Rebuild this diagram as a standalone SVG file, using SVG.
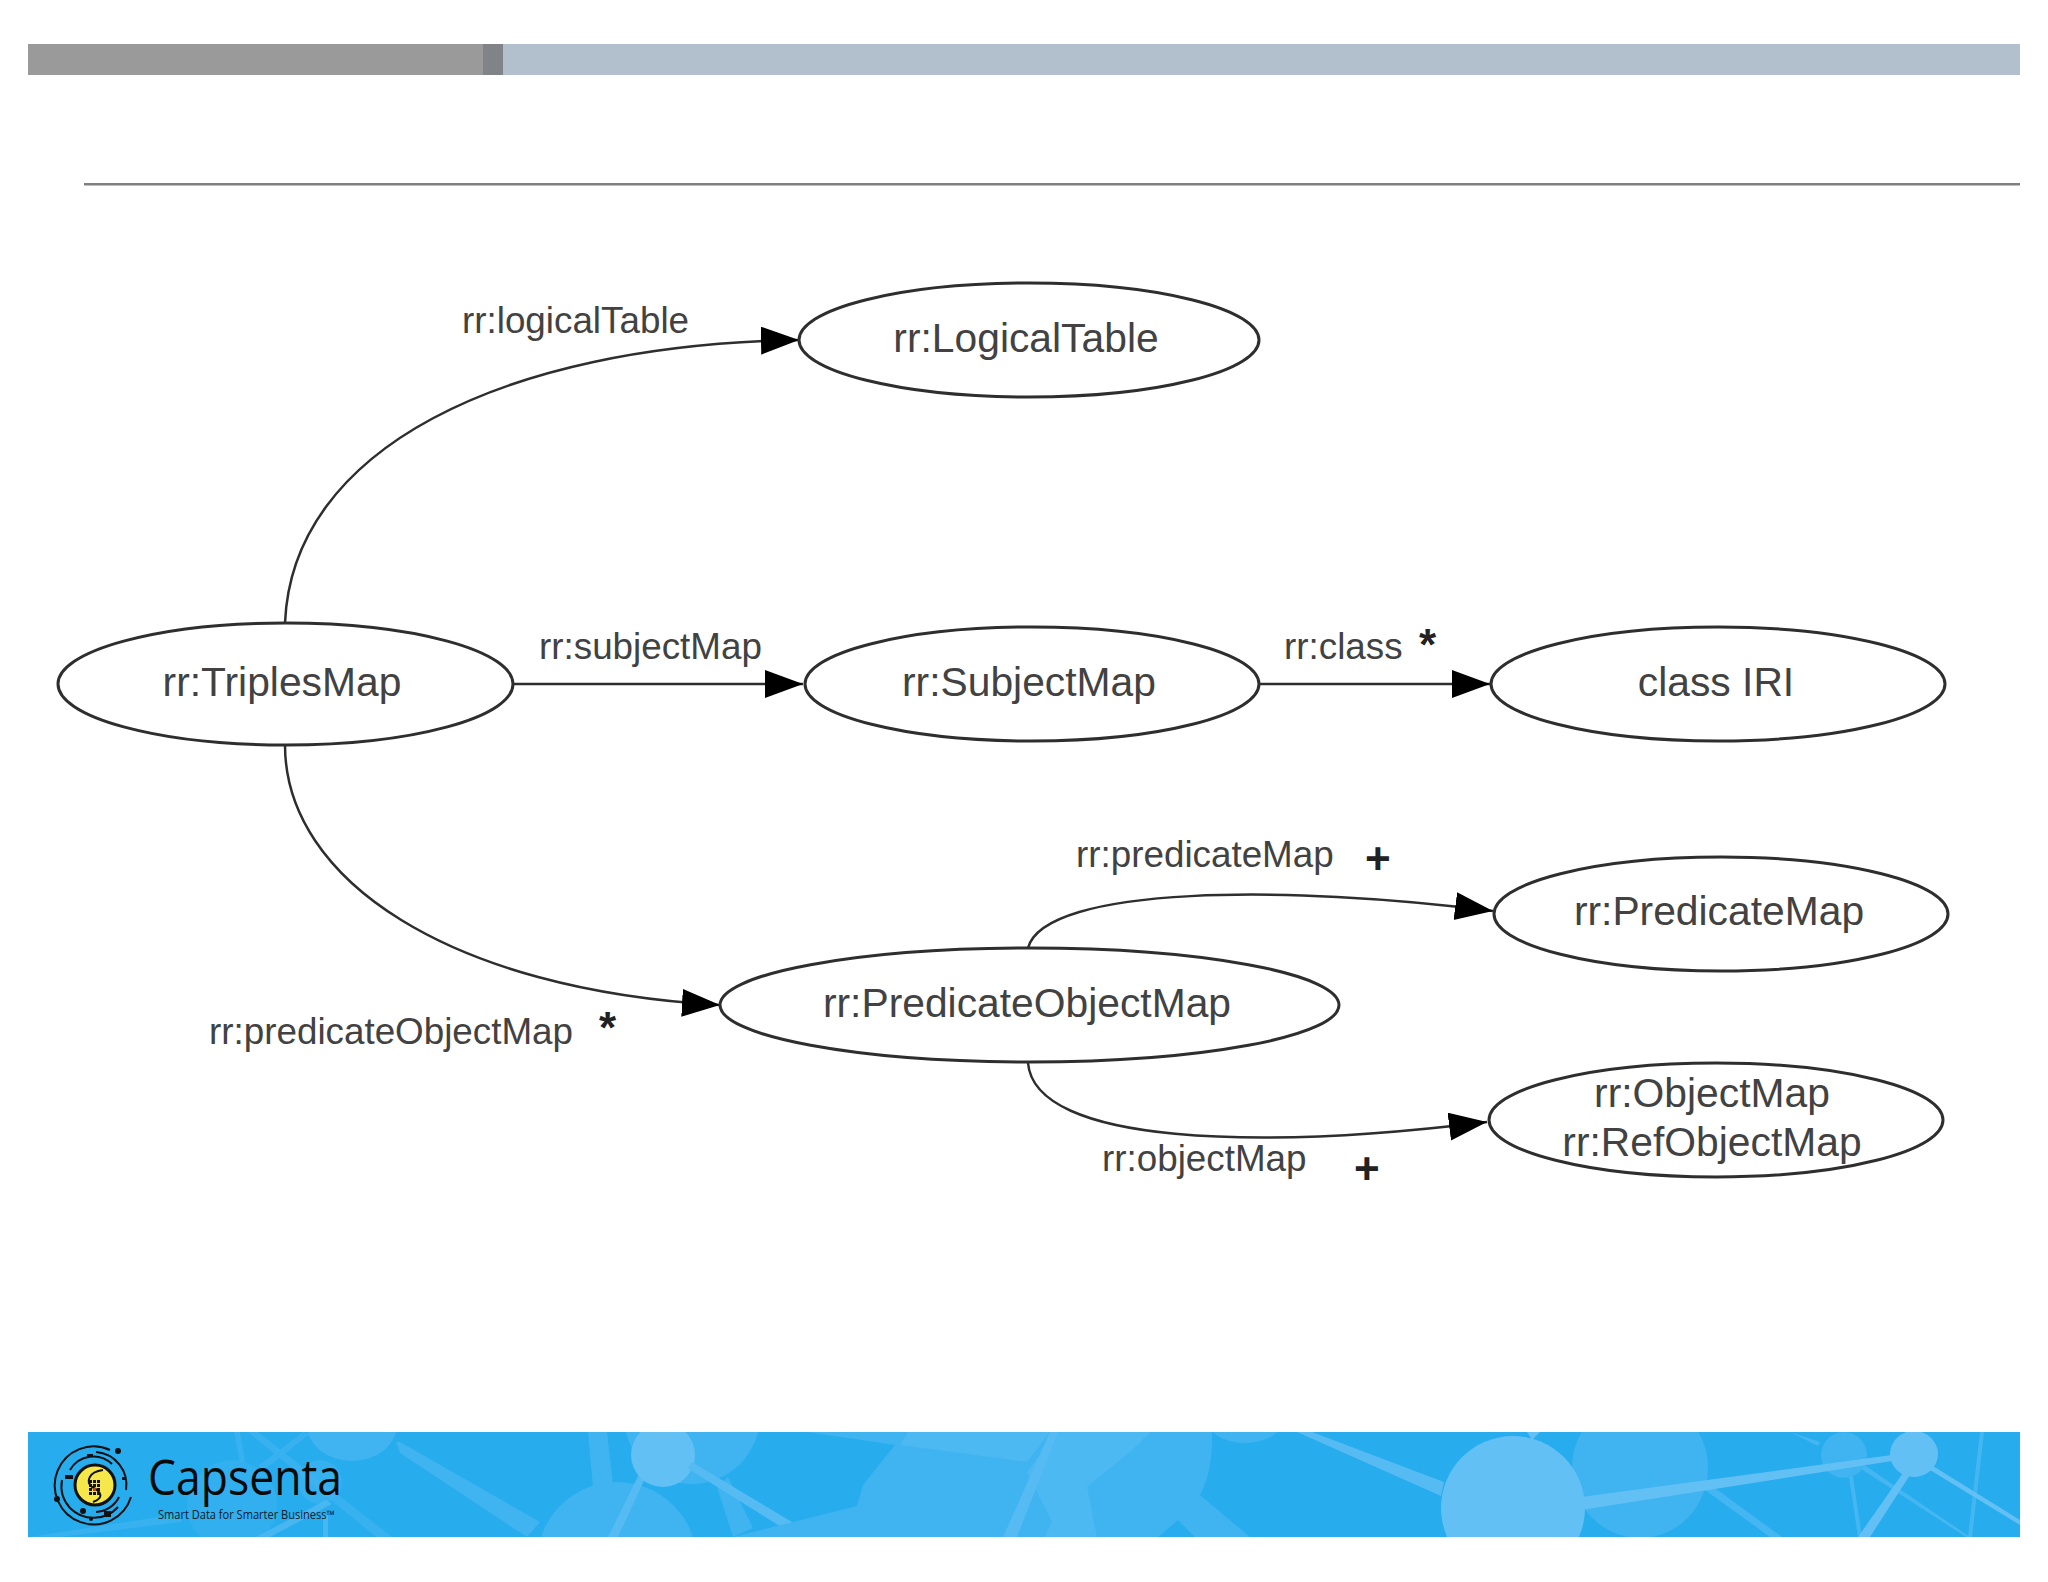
<svg xmlns="http://www.w3.org/2000/svg" width="2048" height="1582" viewBox="0 0 2048 1582">
<style>
text{font-family:"Liberation Sans",Arial,sans-serif;fill:#424242}
.n{font-size:40.800px;text-anchor:middle}
.e{font-size:36.800px}
.c{font-size:44px;font-weight:bold;fill:#222}
ellipse.o{fill:#fff;stroke:#2e2e2e;stroke-width:3}
.l{fill:none;stroke:#2e2e2e;stroke-width:2.500}
.a{fill:#4cb9f2}
.b{fill:#3fb4f0}
.d{fill:#63c0f5}
.m{fill:#55bbf2}
.r{fill:none;stroke:#111;stroke-width:2}
.k{fill:#111}
</style>
<defs>
<marker id="arrow" markerUnits="userSpaceOnUse" markerWidth="40" markerHeight="30" refX="38" refY="14" orient="auto">
<path d="M0 0L38 14L0 28Z" fill="#000"/>
</marker>
<clipPath id="band"><rect x="28" y="1432" width="1992" height="105"/></clipPath>
</defs>
<rect width="2048" height="1582" fill="#fff"/>
<g id="header">
<rect x="28" y="44" width="455" height="31" fill="#9a9a9a"/>
<rect x="483" y="44" width="20" height="31" fill="#808488"/>
<rect x="503" y="44" width="1517" height="31" fill="#b2bfcc"/>
<rect x="84" y="183" width="1936" height="2.500" fill="#7f7f7f"/>
</g>
<g id="footer">
<rect x="28" y="1432" width="1992" height="105" fill="#27acee"/>
<g clip-path="url(#band)">
<path class="b" d="M29 1537L178 1514L182 1522L60 1537ZM248 1432L258 1432L392 1537L376 1537ZM234 1432L240 1432L245 1462L240 1462ZM303 1432L310 1434L264 1470L258 1466Z" opacity=".7"/>
<ellipse class="b" cx="352" cy="1425" rx="45" ry="36"/>
<ellipse class="b" cx="232" cy="1505" rx="45" ry="45" opacity=".45"/>
<circle class="b" cx="320" cy="1482" r="22" opacity=".6"/>
<path class="m" d="M326 1500L332 1504L270 1537L256 1537ZM323 1515L328 1515L328 1537L323 1537Z" opacity=".7"/>
<path class="b" d="M396 1442L400 1442L540 1522L527 1537L400 1453Z"/>
<circle class="b" cx="617" cy="1562" r="80"/>
<path class="b" d="M588 1432L607 1432L613 1485L593 1487Z"/>
<circle class="b" cx="692" cy="1416" r="68"/>
<path class="b" d="M717 1487L728 1477L753 1528L733 1537Z"/>
<path class="m" d="M642 1468L648 1472L618 1537L608 1537Z"/>
<circle class="d" cx="663" cy="1455" r="32"/>
<path class="m" d="M692 1462L817 1537L797 1537L687 1468Z"/>
<path class="b" d="M807 1432L1212 1432C1213 1460 1208 1480 1200 1495L1250 1537L1195 1537L1178 1520L1158 1537L733 1537L857 1506L863 1485L895 1445Z"/>
<path class="a" d="M908 1432L1050 1432L1027 1462L900 1445ZM1057 1432L1150 1432L1130 1452L1087 1487L1097 1537L1045 1537L1052 1522L1027 1472Z"/>
<path class="m" d="M1050 1432L1058 1432L1017 1537L1003 1537Z"/>
<ellipse class="b" cx="1245" cy="1420" rx="38" ry="23"/>
<path class="m" d="M1297 1432L1312 1432L1444 1482L1441 1496Z"/>
<ellipse class="b" cx="1640" cy="1468" rx="68" ry="70"/>
<path class="a" d="M1705 1490L1712 1486L1782 1537L1770 1537ZM1790 1432L1820 1442L1818 1446ZM1855 1465L1860 1462L1970 1537L1966 1537ZM1848 1470L1852 1470L1862 1537L1858 1537ZM1980 1432L1984 1432L1972 1537L1968 1537Z" opacity=".8"/>
<ellipse class="b" cx="1844" cy="1455" rx="23" ry="23"/>
<path class="d" d="M1581 1497L1892 1455L1892 1461L1581 1510Z"/>
<path class="d" d="M1858 1537L1905 1470L1910 1475L1870 1537ZM1930 1470L1933 1466L2020 1520L2020 1525Z"/>
<ellipse class="d" cx="1513" cy="1508" rx="72" ry="72"/>
<path class="d" d="M1527 1432L1540 1432L1532 1440Z"/>
<ellipse class="d" cx="1914" cy="1454" rx="24" ry="23"/>
</g>
<g id="logo">
<path class="r" d="M110 1450A39 39 0 1 0 131 1497"/>
<path class="r" d="M96 1452A33 33 0 0 1 126 1490M118 1507A33 33 0 0 1 70 1508A33 33 0 0 1 62 1480"/>
<path class="r" d="M70 1470A27 27 0 0 1 112 1464M119 1497A27 27 0 0 1 96 1512"/>
<circle cx="95" cy="1485" r="20" fill="#f6e84a" stroke="#111" stroke-width="3"/>
<path class="r" d="M103 1470C88 1472 86 1482 92 1487C102 1492 104 1498 93 1502"/>
<path class="k" d="M89 1480h3v3h-3zM93 1480h3v3h-3zM97 1480h3v3h-3zM89 1484h3v3h-3zM93 1484h3v3h-3zM97 1484h3v3h-3zM89 1488h3v3h-3zM97 1488h3v3h-3zM89 1492h3v3h-3zM93 1492h3v3h-3zM97 1492h3v3h-3z"/>
<rect x="93" y="1488" width="3" height="3" fill="#c8402a"/>
<circle class="k" cx="118" cy="1451" r="3"/>
<circle class="k" cx="57" cy="1499" r="3"/>
<circle class="k" cx="83" cy="1511" r="3"/>
<circle class="k" cx="91" cy="1519" r="2"/>
<rect class="k" x="104" y="1511" width="7" height="6"/>
<rect class="k" x="65" y="1475" width="8" height="4"/>
<rect class="k" x="87" y="1454" width="6" height="3"/>
<rect class="k" x="122" y="1477" width="3" height="3"/>
<text x="148" y="1495" font-size="50" style="font-family:'Open Sans',sans-serif;fill:#0a0a0a" textLength="194" lengthAdjust="spacingAndGlyphs">Capsenta</text>
<text x="158" y="1519" font-size="12" style="font-family:'Open Sans',sans-serif;fill:#10202c" textLength="177" lengthAdjust="spacingAndGlyphs">Smart Data for Smarter Business™</text>
</g>
</g>
<g id="connectors">
<path class="l" marker-end="url(#arrow)" d="M285 623C292 450 500 345 799 340"/>
<path class="l" marker-end="url(#arrow)" d="M513 684H803"/>
<path class="l" marker-end="url(#arrow)" d="M1260 684H1490"/>
<path class="l" marker-end="url(#arrow)" d="M285 745C285 880 450 990 720 1005"/>
<path class="l" marker-end="url(#arrow)" d="M1028 948C1045 885 1290 885 1493 911"/>
<path class="l" marker-end="url(#arrow)" d="M1028 1063C1035 1145 1260 1150 1487 1122"/>
<text class="e" x="462" y="333">rr:logicalTable</text>
<text class="e" x="539" y="659">rr:subjectMap</text>
<text class="e" x="1284" y="659">rr:class</text>
<text class="c" x="1419" y="660">*</text>
<text class="e" x="1076" y="867">rr:predicateMap</text>
<text class="c" x="1365" y="874">+</text>
<text class="e" x="209" y="1044">rr:predicateObjectMap</text>
<text class="c" x="599" y="1043">*</text>
<text class="e" x="1102" y="1171">rr:objectMap</text>
<text class="c" x="1354" y="1184">+</text>
</g>
<g id="node-triplesmap"><ellipse class="o" cx="285.500" cy="684" rx="227.500" ry="61"/><text class="n" x="282" y="696">rr:TriplesMap</text></g>
<g id="node-logicaltable"><ellipse class="o" cx="1029" cy="340" rx="230" ry="57"/><text class="n" x="1026" y="352">rr:LogicalTable</text></g>
<g id="node-subjectmap"><ellipse class="o" cx="1032" cy="684" rx="227" ry="57"/><text class="n" x="1029" y="696">rr:SubjectMap</text></g>
<g id="node-classiri"><ellipse class="o" cx="1718" cy="684" rx="227" ry="57"/><text class="n" x="1716" y="696">class IRI</text></g>
<g id="node-predicatemap"><ellipse class="o" cx="1721" cy="914" rx="227" ry="57"/><text class="n" x="1719" y="925">rr:PredicateMap</text></g>
<g id="node-predicateobjectmap"><ellipse class="o" cx="1029.500" cy="1005" rx="309.500" ry="57"/><text class="n" x="1027" y="1017">rr:PredicateObjectMap</text></g>
<g id="node-objectmap"><ellipse class="o" cx="1716" cy="1120" rx="227" ry="57"/><text class="n" x="1712" y="1107">rr:ObjectMap</text><text class="n" x="1712" y="1156">rr:RefObjectMap</text></g>
</svg>
